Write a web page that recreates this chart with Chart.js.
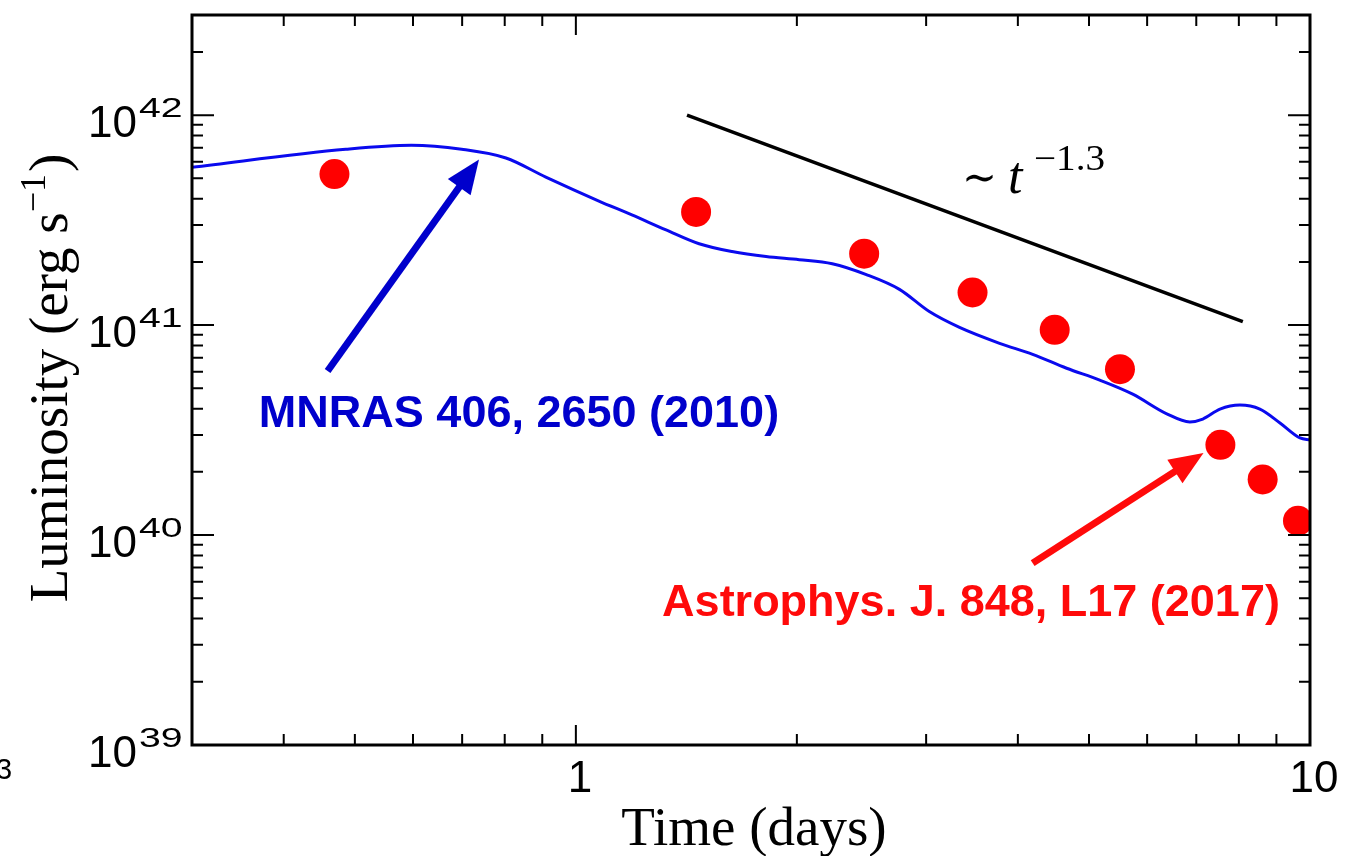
<!DOCTYPE html>
<html>
<head>
<meta charset="utf-8">
<script src="https://cdn.jsdelivr.net/npm/chart.js@4.4.1/dist/chart.umd.min.js"></script>
<style>
  html, body { margin: 0; padding: 0; background: #fff; }
  #wrap { width: 1347px; height: 856px; position: relative; }
</style>
</head>
<body>
<div id="wrap"><canvas id="grafico" width="1347" height="856"></canvas></div>
<script>
// curva do modelo (MNRAS 406, 2650)
const modelTime = [0.3, 0.486, 0.597, 0.699, 0.803, 0.91, 1.075, 1.192, 1.327, 1.472, 1.632, 1.816, 2.015, 2.235,
  2.487, 2.759, 3.03, 3.331, 3.777, 4.19, 4.661, 5.171, 5.735, 6.381, 6.86, 7.145, 7.54, 8.027, 8.546, 9.101, 9.692, 10];
const modelLum = [5.65e41, 6.88e41, 7.19e41, 6.88e41, 6.25e41, 5.07e41, 3.9e41, 3.35e41, 2.84e41, 2.44e41, 2.24e41,
  2.12e41, 2.05e41, 1.96e41, 1.74e41, 1.48e41, 1.16e41, 9.75e40, 8.19e40, 7.26e40, 6.23e40, 5.47e40, 4.69e40,
  3.78e40, 3.46e40, 3.57e40, 3.98e40, 4.16e40, 3.98e40, 3.42e40, 2.9e40, 2.84e40];
// pontos observados (ApJ 848, L17)
const obsTime = [0.469, 1.458, 2.47, 3.47, 4.49, 5.51, 7.55, 8.62, 9.63];
const obsLum = [5.24e41, 3.46e41, 2.19e41, 1.43e41, 9.5e40, 6.17e40, 2.69e40, 1.84e40, 1.17e40];
// reta ~ t^-1.3
const powerLawTime = [1.417, 8.1];
const powerLawLum = [1.0e42, 1.04e41];
// setas (inicio -> ponta)
const blueArrowTime = [0.459, 0.738];
const blueArrowLum = [6.04e40, 6.15e41];
const redArrowTime = [4.19, 7.16];
const redArrowLum = [7.35e39, 2.46e40];
// eixos
const yTickValues = [1e39, 1e40, 1e41, 1e42];
const yTickExponents = ['39', '40', '41', '42'];
const xTickValues = [1, 10];
const xTickLabels = ['1', '10'];

const pares = (xs, ys) => xs.map((v, i) => ({ x: v, y: ys[i] }));

function texto(ctx, str, x, y, font, color, align, sx) {
  ctx.save();
  ctx.translate(x, y);
  ctx.scale(sx || 1, 1);
  ctx.font = font;
  ctx.fillStyle = color;
  ctx.textAlign = align || 'left';
  ctx.textBaseline = 'alphabetic';
  ctx.fillText(str, 0, 0);
  ctx.restore();
}

function seta(ctx, x1, y1, x2, y2, color) {
  const ang = Math.atan2(y2 - y1, x2 - x1);
  const head = 34, half = 14;
  const bx = x2 - head * Math.cos(ang), by = y2 - head * Math.sin(ang);
  ctx.save();
  ctx.strokeStyle = color; ctx.fillStyle = color;
  ctx.lineWidth = 7; ctx.lineCap = 'butt';
  ctx.beginPath(); ctx.moveTo(x1, y1); ctx.lineTo(bx + 2 * Math.cos(ang), by + 2 * Math.sin(ang)); ctx.stroke();
  ctx.beginPath();
  ctx.moveTo(x2, y2);
  ctx.lineTo(bx + half * Math.sin(ang), by - half * Math.cos(ang));
  ctx.lineTo(bx - half * Math.sin(ang), by + half * Math.cos(ang));
  ctx.closePath(); ctx.fill();
  ctx.restore();
}

// moldura, ticks, rotulos e anotacoes
const decoracao = {
  id: 'decoracao',
  afterDatasetsDraw(chart) {
    const { ctx, chartArea: a, scales: { x, y } } = chart;
    ctx.save();
    ctx.strokeStyle = '#000';
    ctx.lineWidth = 2;
    ctx.beginPath();
    for (let d = 39; d <= 42; d++) {
      for (let m = 1; m <= 9; m++) {
        const v = m * Math.pow(10, d);
        if (v >= 3e42) continue;
        const py = y.getPixelForValue(v);
        const len = m === 1 ? 22 : 11;
        ctx.moveTo(a.left, py); ctx.lineTo(a.left + len, py);
        ctx.moveTo(a.right, py); ctx.lineTo(a.right - len, py);
      }
    }
    for (let d = -1; d <= 1; d++) {
      for (let m = 1; m <= 9; m++) {
        const v = m * Math.pow(10, d);
        if (v <= 0.3 || v > 10) continue;
        const px = x.getPixelForValue(v);
        const len = m === 1 ? 20 : 11;
        ctx.moveTo(px, a.bottom); ctx.lineTo(px, a.bottom - len);
        ctx.moveTo(px, a.top); ctx.lineTo(px, a.top + len);
      }
    }
    ctx.stroke();
    ctx.lineWidth = 3;
    ctx.strokeRect(a.left, a.top, a.right - a.left, a.bottom - a.top);
    ctx.restore();

    // rotulos dos ticks
    yTickValues.forEach((v, i) => {
      const py = y.getPixelForValue(v);
      texto(ctx, '10', 137, py + 22, '44px "Liberation Sans"', '#000', 'right');
      texto(ctx, yTickExponents[i], 139, py + 2, '28px "Liberation Sans"', '#000', 'left', 1.4);
    });
    xTickValues.forEach((v, i) => {
      const px = x.getPixelForValue(v);
      texto(ctx, xTickLabels[i], px + 4, 792, '44px "Liberation Sans"', '#000', 'center');
    });

    // titulos dos eixos
    texto(ctx, 'Time (days)', 754, 845, '55px "Liberation Serif"', '#000', 'center');
    ctx.save();
    ctx.translate(67, 378);
    ctx.rotate(-Math.PI / 2);
    ctx.fillStyle = '#000';
    ctx.textBaseline = 'alphabetic';
    ctx.textAlign = 'left';
    const fMain = '55px "Liberation Serif"', fSup = '36px "Liberation Serif"';
    ctx.font = fMain; const w1 = ctx.measureText('Luminosity (erg s').width; const w3 = ctx.measureText(')').width;
    ctx.font = fSup; const w2 = ctx.measureText('\u22121').width;
    let cx = -(w1 + w2 + w3 + 2) / 2;
    ctx.font = fMain; ctx.fillText('Luminosity (erg s', cx, 0); cx += w1;
    ctx.font = fSup; ctx.fillText('\u22121', cx, -22); cx += w2 + 2;
    ctx.font = fMain; ctx.fillText(')', cx, 0);
    ctx.restore();

    // ~ t^-1.3
    texto(ctx, '\u223C', 962, 192, '44px "DejaVu Serif"', '#000', 'left', 0.95);
    texto(ctx, 't', 1008, 193, 'italic 52px "Liberation Serif"', '#000', 'left');
    texto(ctx, '\u22121.3', 1034, 170, '35px "Liberation Serif"', '#000', 'left', 1.12);

    // setas e referencias
    seta(ctx, x.getPixelForValue(blueArrowTime[0]), y.getPixelForValue(blueArrowLum[0]),
      x.getPixelForValue(blueArrowTime[1]), y.getPixelForValue(blueArrowLum[1]), '#0000cc');
    seta(ctx, x.getPixelForValue(redArrowTime[0]), y.getPixelForValue(redArrowLum[0]),
      x.getPixelForValue(redArrowTime[1]), y.getPixelForValue(redArrowLum[1]), '#ff0a0a');
    texto(ctx, 'MNRAS 406, 2650 (2010)', 519, 427, 'bold 45px "Liberation Sans"', '#0000cc', 'center');
    texto(ctx, 'Astrophys. J. 848, L17 (2017)', 971, 616, 'bold 45px "Liberation Sans"', '#ff0a0a', 'center');

    // resto de texto na margem
    texto(ctx, '3', -4, 779, '29px "Liberation Sans"', '#000', 'left');
  }
};

const contexto = document.getElementById('grafico').getContext('2d');
new Chart(contexto, {
  type: 'scatter',
  data: {
    datasets: [
      {
        label: 'Modelo',
        data: pares(modelTime, modelLum),
        showLine: true,
        borderColor: '#0a0aee',
        borderWidth: 3,
        pointRadius: 0,
        cubicInterpolationMode: 'monotone'
      },
      {
        label: 't^-1.3',
        data: pares(powerLawTime, powerLawLum),
        showLine: true,
        borderColor: '#000',
        borderWidth: 3.5,
        pointRadius: 0
      },
      {
        label: 'Observado',
        data: pares(obsTime, obsLum),
        showLine: false,
        backgroundColor: '#ff0000',
        borderWidth: 0,
        pointRadius: 15
      }
    ]
  },
  options: {
    responsive: false,
    animation: false,
    layout: { padding: { top: 12, right: 37, left: 0, bottom: 0 } },
    plugins: { legend: { display: false }, tooltip: { enabled: false } },
    scales: {
      x: {
        type: 'logarithmic', min: 0.3, max: 10,
        grid: { display: false }, border: { display: false }, ticks: { display: false },
        afterFit: s => { s.height = 111; }
      },
      y: {
        type: 'logarithmic', min: 1e39, max: 3e42,
        grid: { display: false }, border: { display: false }, ticks: { display: false },
        afterFit: s => { s.width = 192; }
      }
    }
  },
  plugins: [decoracao]
});
</script>
</body>
</html>
